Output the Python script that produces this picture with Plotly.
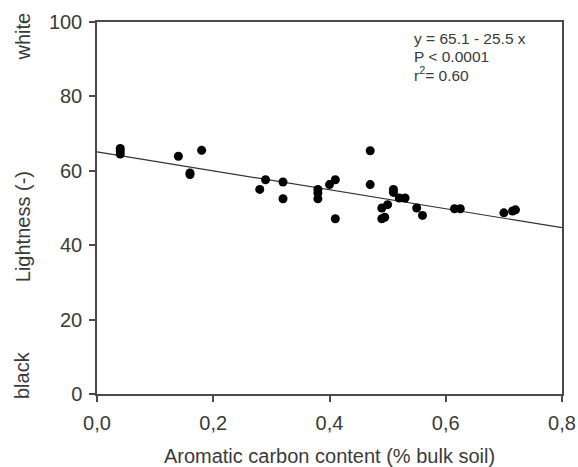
import plotly.graph_objects as go

aromatic_c = [0.04, 0.04, 0.04, 0.14, 0.16, 0.16, 0.18, 0.28, 0.29, 0.32, 0.32,
              0.38, 0.38, 0.38, 0.40, 0.41, 0.41, 0.47, 0.47, 0.49, 0.49, 0.495,
              0.50, 0.51, 0.51, 0.52, 0.53, 0.55, 0.56, 0.615, 0.625, 0.70, 0.715, 0.72]
lightness = [66.0, 65.3, 64.5, 63.9, 59.4, 59.0, 65.5, 55.0, 57.6, 57.0, 52.5,
             55.0, 54.0, 52.5, 56.3, 57.6, 47.1, 65.4, 56.3, 50.0, 47.1, 47.5,
             50.9, 55.0, 54.2, 52.7, 52.7, 50.0, 48.0, 49.8, 49.8, 48.7, 49.2, 49.5]

intercept = 65.1
slope = -25.5
fit_x = [0.0, 0.8]
fit_y = [intercept + slope * v for v in fit_x]

xticks = [0.0, 0.2, 0.4, 0.6, 0.8]
yticks = [0, 20, 40, 60, 80, 100]

FONT = "Liberation Sans, Arial, sans-serif"
TXT = "#3a3a3a"
AX = "#4a4a4a"

fig = go.Figure()
fig.add_trace(go.Scatter(x=fit_x, y=fit_y, mode="lines",
                         line=dict(color="#333333", width=1.2), showlegend=False))
fig.add_trace(go.Scatter(x=aromatic_c, y=lightness, mode="markers",
                         marker=dict(color="black", size=9), showlegend=False))

fig.update_layout(
    width=578, height=467,
    margin=dict(l=97, r=16, t=22, b=73),
    paper_bgcolor="white", plot_bgcolor="white",
    separators=",.",
    font=dict(family=FONT, size=20, color=TXT),
    showlegend=False,
)
fig.update_xaxes(range=[0, 0.8], tickvals=xticks, tickformat=".1f",
                 showgrid=False, zeroline=False, automargin=False,
                 showline=True, linecolor=AX, linewidth=1.5, mirror=True,
                 ticks="outside", ticklen=6, tickcolor=AX, tickwidth=1.5,
                 ticklabelstandoff=4,
                 tickfont=dict(size=20, color=TXT),
                 title=dict(text="Aromatic carbon content (% bulk soil)",
                            font=dict(size=20, color=TXT), standoff=20))
fig.update_yaxes(range=[0, 100], tickvals=yticks,
                 showgrid=False, zeroline=False, automargin=False,
                 showline=True, linecolor=AX, linewidth=1.5, mirror=True,
                 ticks="outside", ticklen=6, tickcolor=AX, tickwidth=1.5,
                 ticklabelstandoff=3,
                 tickfont=dict(size=20, color=TXT))

for txt, yv in [("white", 96), ("Lightness (-)", 45), ("black", 5)]:
    fig.add_annotation(text=txt, xref="paper", yref="y", x=-0.16, y=yv,
                       xanchor="center", yanchor="middle", textangle=-90,
                       showarrow=False, font=dict(size=20, color=TXT))

for txt, yp in [("y = 65.1 - 25.5 x", 39), ("P &lt; 0.0001", 56), ("r<sup>2</sup>= 0.60", 74)]:
    fig.add_annotation(text=txt, xref="x", yref="paper", x=0.542,
                       y=1 - (yp - 22) / 372, xanchor="left", yanchor="middle",
                       showarrow=False, font=dict(size=15.5, color=TXT))

fig.write_html("out.html")
